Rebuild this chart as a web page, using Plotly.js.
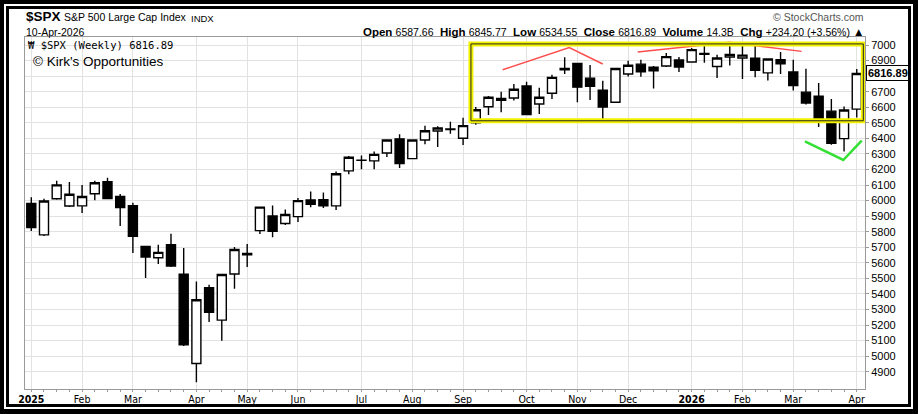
<!DOCTYPE html>
<html><head><meta charset="utf-8">
<script src="https://cdn.plot.ly/plotly-3.0.1.min.js"></script>
<style>
html,body{margin:0;padding:0;background:#fff;}
#wrap{position:relative;width:918px;height:414px;overflow:hidden;background:#fff;}
#chart{position:absolute;left:0;top:0;width:918px;height:414px;}
#outer{position:absolute;left:0;top:0;width:918px;height:414px;box-sizing:border-box;border-style:solid;border-color:#000;border-width:4px 5px 5px 4px;pointer-events:none;}
#inner{position:absolute;left:6px;top:6px;width:905px;height:401px;box-sizing:border-box;border:3px solid #000;pointer-events:none;}
</style></head>
<body><div id="wrap"><div id="chart"></div><div id="outer"></div><div id="inner"></div></div>
<script>
// ---- weekly candles (week dated by its Monday) ----
const weekDates = [
 '2025-01-06','2025-01-13','2025-01-20','2025-01-27','2025-02-03','2025-02-10','2025-02-17','2025-02-24',
 '2025-03-03','2025-03-10','2025-03-17','2025-03-24','2025-03-31','2025-04-07','2025-04-14','2025-04-21','2025-04-28',
 '2025-05-05','2025-05-12','2025-05-19','2025-05-26','2025-06-02','2025-06-09','2025-06-16','2025-06-23','2025-06-30',
 '2025-07-07','2025-07-14','2025-07-21','2025-07-28','2025-08-04','2025-08-11','2025-08-18','2025-08-25',
 '2025-09-01','2025-09-08','2025-09-15','2025-09-22','2025-09-29','2025-10-06','2025-10-13','2025-10-20','2025-10-27',
 '2025-11-03','2025-11-10','2025-11-17','2025-11-24','2025-12-01','2025-12-08','2025-12-15','2025-12-22','2025-12-29',
 '2026-01-05','2026-01-12','2026-01-19','2026-01-26','2026-02-02','2026-02-09','2026-02-16','2026-02-23',
 '2026-03-02','2026-03-09','2026-03-16','2026-03-23','2026-03-30','2026-04-06'
];
const openVals = [
 5982,5780,6012,5965,5966,6044,6121,6026,
 5968,5705,5633,5716,5527,4953,5440,5232,5528,
 5652,5807,5901,5853,5897,6004,6005,5966,6191,
 6259,6255,6306,6397,6270,6389,6447,6457,
 6401,6500,6603,6656,6659,6737,6621,6690,6850,
 6882,6787,6710,6632,6814,6877,6858,6865,6904,
 6891,6945,6862,6923,6916,6915,6821,6905,
 6826,6697,6671,6575,6398,6587.66
];
const highVals = [
 6021,6012,6128,6120,6101,6127,6147,6043,
 5986,5706,5716,5787,5696,5480,5459,5528,5701,
 5721,5959,5968,5943,6017,6059,6052,6187,6286,
 6290,6315,6395,6427,6395,6481,6478,6506,
 6532,6602,6672,6699,6750,6764,6725,6808,6921,
 6886,6872,6770,6853,6898,6905,6865,6948,6923,
 6980,6995,6937,6998,6995,6995,6915,6955,
 6905,6848,6756,6653,6605,6845.77
];
const lowVals = [
 5805,5772,6005,5959,5920,6002,6008,5836,
 5663,5502,5593,5573,5066,4833,5219,5099,5433,
 5574,5785,5765,5843,5862,5958,5952,5940,6170,
 6201,6201,6280,6210,6265,6362,6345,6430,
 6358,6487,6550,6567,6644,6550,6557,6653,6814,
 6632,6646,6521,6630,6798,6796,6721,6859,6826,
 6889,6886,6788,6869,6781,6792,6772,6814,
 6708,6618,6473,6359,6316,6534.55
];
const closeVals = [
 5827,5997,6101,6041,6026,6115,6013,5955,
 5770,5638,5667,5580,5074,5363,5282,5525,5686,
 5660,5958,5802,5911,6000,5977,5967,6173,6279,
 6260,6297,6389,6238,6389,6449,6467,6460,
 6482,6584,6664,6644,6716,6553,6664,6792,6840,
 6729,6734,6602,6849,6870,6827,6834,6925,6859,
 6970,6940,6916,6940,6935,6837,6910,6879,
 6740,6627,6506,6369,6582.69,6816.89
];
// ---- axis ticks ----
const monthTickDates = ['2025-01-06','2025-02-03','2025-03-03','2025-04-07','2025-05-05','2025-06-02','2025-07-07','2025-08-04',
 '2025-09-01','2025-10-06','2025-11-03','2025-12-01','2026-01-05','2026-02-02','2026-03-02','2026-04-06'];
const monthTickLabels = ['<b>2025</b>','Feb','Mar','Apr','May','Jun','Jul','Aug','Sep','Oct','Nov','Dec','<b>2026</b>','Feb','Mar','Apr'];
const priceTickVals = [4900,5000,5100,5200,5300,5400,5500,5600,5700,5800,5900,6000,6100,6200,6300,6400,6500,6600,6700,6800,6900,7000];
// 6800 is covered by the last-price box in the reference
const priceTickLabels = ['4900','5000','5100','5200','5300','5400','5500','5600','5700','5800','5900','6000','6100','6200','6300','6400','6500','6600','6700','','6900','7000'];
// ---- drawn annotations (trend lines, box) ----
const redLeftDates = ['2025-09-22 20:00','2025-10-29 12:00','2025-11-17 00:00'];
const redLeftVals = [6841, 6983, 6878];
const redRightDates = ['2025-12-06 06:00','2026-01-26 00:00','2026-03-06 14:00'];
const redRightVals = [6955, 7017, 6959];
const greenDates = ['2026-03-08 10:00','2026-03-29 14:00','2026-04-08 17:00'];
const greenVals = [6380, 6261, 6385];
const boxDates = ['2025-09-05 08:00','2026-04-09 15:00'];
const boxVals = [6513, 7007];
const lastClose = 6816.89;

const FONT = 'Liberation Sans, Arial, sans-serif';
const traces = [
 {type:'candlestick', x:weekDates, open:openVals, high:highVals, low:lowVals, close:closeVals,
  increasing:{line:{color:'#000',width:1.4},fillcolor:'#fff'},
  decreasing:{line:{color:'#000',width:1.4},fillcolor:'#000'},
  whiskerwidth:0, hoverinfo:'skip', showlegend:false},
 {type:'scatter', mode:'lines', x:redLeftDates, y:redLeftVals, line:{color:'#ff4d4d',width:1.5}, hoverinfo:'skip', showlegend:false},
 {type:'scatter', mode:'lines', x:redRightDates, y:redRightVals, line:{color:'#ff4d4d',width:1.5}, hoverinfo:'skip', showlegend:false},
 {type:'scatter', mode:'lines', x:greenDates, y:greenVals, line:{color:'#33e033',width:2.5}, hoverinfo:'skip', showlegend:false}
];

function px(x){return (x-25)/840;}
function py(y){return (389-y)/352;}

const layout = {
 width:918, height:414,
 margin:{l:25, r:53, t:37, b:25, pad:0},
 paper_bgcolor:'#fff', plot_bgcolor:'#fff',
 showlegend:false,
 boxgap:0.29, boxgroupgap:0,
 xaxis:{type:'date', range:['2025-01-02 12:45','2026-04-10 13:00'],
  tickmode:'array', tickvals:monthTickDates, ticktext:monthTickLabels,
  showgrid:true, gridcolor:'#e2e2e2', gridwidth:1,
  showline:true, mirror:true, linecolor:'#9a9a9a', linewidth:1,
  ticks:'', zeroline:false, fixedrange:true,
  tickfont:{family:'Liberation Sans Narrow, Arial Narrow, DejaVu Sans Condensed, sans-serif', size:10.5, color:'#000'},
  rangeslider:{visible:false},
  minor:{ticks:'outside', ticklen:2, tickcolor:'#999', tickmode:'linear', tick0:'2025-01-06', dtick:7*86400000, showgrid:false}
 },
 yaxis:{side:'right', range:[4789.2, 7051.4], tickmode:'array', tickvals:priceTickVals, ticktext:priceTickLabels,
  showgrid:true, gridcolor:'#e2e2e2', gridwidth:1,
  showline:true, mirror:true, linecolor:'#9a9a9a', linewidth:1,
  ticks:'outside', ticklen:3, tickcolor:'#9a9a9a', zeroline:false, fixedrange:true,
  tickfont:{family:FONT, size:11, color:'#000'}
 },
 shapes:[
  {type:'rect', xref:'x', yref:'y', x0:boxDates[0], x1:boxDates[1], y0:boxVals[0], y1:boxVals[1], line:{color:'#f2f200', width:5}, layer:'above'},
  {type:'rect', xref:'x', yref:'y', x0:boxDates[0], x1:boxDates[1], y0:boxVals[0], y1:boxVals[1], line:{color:'#222', width:1}, layer:'above'}
 ],
 annotations:[
  {xref:'paper', yref:'paper', x:px(24), y:py(17), xanchor:'left', yanchor:'middle', showarrow:false,
   text:'<b>$SPX</b>', font:{family:FONT, size:13.5, color:'#000'}},
  {xref:'paper', yref:'paper', x:px(61.5), y:py(17.5), xanchor:'left', yanchor:'middle', showarrow:false,
   text:'S&P 500 Large Cap Index', font:{family:FONT, size:10.5, color:'#000'}},
  {xref:'paper', yref:'paper', x:px(189), y:py(18), xanchor:'left', yanchor:'middle', showarrow:false,
   text:'INDX', font:{family:FONT, size:9.5, color:'#000'}},
  {xref:'paper', yref:'paper', x:px(24), y:py(31.5), xanchor:'left', yanchor:'middle', showarrow:false,
   text:'10-Apr-2026', font:{family:FONT, size:10.5, color:'#000'}},
  {xref:'paper', yref:'paper', x:px(866), y:py(31.5), xanchor:'right', yanchor:'middle', showarrow:false,
   text:'<b>Open</b> <span style="font-size:10.5px">6587.66</span>  <b>High</b> <span style="font-size:10.5px">6845.77</span>  <b>Low</b> <span style="font-size:10.5px">6534.55</span>  <b>Close</b> <span style="font-size:10.5px">6816.89</span>  <b>Volume</b> <span style="font-size:10.5px">14.3B</span>  <b>Chg</b> <span style="font-size:10.5px">+234.20 (+3.56%)</span> ▲',
   font:{family:FONT, size:11.5, color:'#000'}},
  {xref:'paper', yref:'paper', x:px(866), y:py(17.5), xanchor:'right', yanchor:'middle', showarrow:false,
   text:'© StockCharts.com', font:{family:FONT, size:10.5, color:'#555'}},
  {xref:'paper', yref:'paper', x:px(25.5), y:py(45), xanchor:'left', yanchor:'middle', showarrow:false,
   text:'₩ $SPX (Weekly) 6816.89', font:{family:'DejaVu Sans Mono, monospace', size:10.5, color:'#000'}},
  {xref:'paper', yref:'paper', x:px(30.5), y:py(61), xanchor:'left', yanchor:'middle', showarrow:false,
   text:"© Kirk's Opportunities", font:{family:FONT, size:13.5, color:'#000'}},
  {xref:'paper', yref:'y', x:px(866), y:lastClose, xanchor:'left', yanchor:'middle', showarrow:false,
   text:'<b>6816.89</b>', font:{family:FONT, size:11, color:'#000'}, bgcolor:'#fff', bordercolor:'#000', borderwidth:1, borderpad:1}
 ]
};
Plotly.newPlot('chart', traces, layout, {displayModeBar:false, staticPlot:true});
</script>
</body></html>
